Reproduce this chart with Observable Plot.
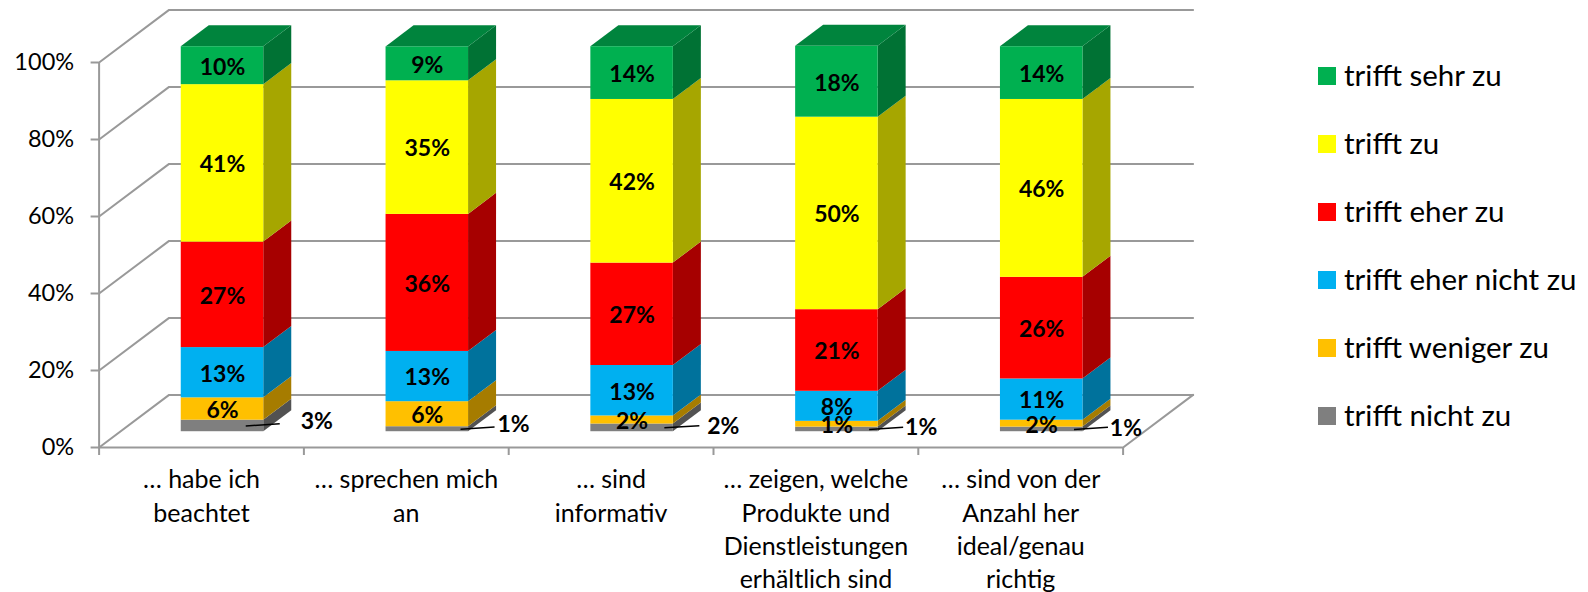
<!DOCTYPE html>
<html><head><meta charset="utf-8">
<script src="https://cdn.jsdelivr.net/npm/d3@7"></script>
<script src="https://cdn.jsdelivr.net/npm/@observablehq/plot@0.6"></script>
<style>
html,body{margin:0;padding:0;background:#fff}
#wrap{position:relative;width:1588px;height:592px;overflow:hidden;font-family:Lato,sans-serif}
#legend{position:absolute;left:1318px;top:67px}
.li{position:absolute;left:0;white-space:nowrap;font-size:29.5px;line-height:18px;color:#000}
.li i{position:absolute;left:0;top:0;width:18px;height:18px}
.li span{position:absolute;left:26px;top:-1px}
svg{display:block}
</style></head><body><div id="wrap"><div id="chart"></div><div id="legend"></div></div>
<script>
const categories = ["… habe ich\nbeachtet","… sprechen mich\nan","… sind\ninformativ","… zeigen, welche\nProdukte und\nDienstleistungen\nerhältlich sind","… sind von der\nAnzahl her\nideal/genau\nrichtig"];
const seriesNames = ["trifft nicht zu","trifft weniger zu","trifft eher nicht zu","trifft eher zu","trifft zu","trifft sehr zu"];
const nichtZu      = [3.0, 1.3, 2.0, 1.2, 1.2];
const wenigerZu    = [5.8, 6.5, 2.1, 1.5, 1.8];
const eherNichtZu  = [13.05, 13.05, 13.1, 7.8, 10.7];
const eherZu       = [27.4, 35.6, 26.6, 21.2, 26.4];
const zu           = [40.9, 34.7, 42.5, 50.0, 46.2];
const sehrZu       = [9.85, 8.8, 13.7, 18.4, 13.7];
const labelsNichtZu     = ["3%","1%","2%","1%","1%"];
const labelsWenigerZu   = ["6%","6%","2%","1%","2%"];
const labelsEherNichtZu = ["13%","13%","13%","8%","11%"];
const labelsEherZu      = ["27%","36%","27%","21%","26%"];
const labelsZu          = ["41%","35%","42%","50%","46%"];
const labelsSehrZu      = ["10%","9%","14%","18%","14%"];
const yTicks = [0,20,40,60,80,100];
const frontColors = ["#7f7f7f","#ffc000","#00b0f0","#ff0000","#ffff00","#00b050"];
const sideColors  = ["#525252","#a67c00","#00729c","#a60000","#a6a600","#007234"];
const topColor = "#00843d";
const gridColor = "#999999";

// layout
const values = [nichtZu,wenigerZu,eherNichtZu,eherZu,zu,sehrZu];
const labels = [labelsNichtZu,labelsWenigerZu,labelsEherNichtZu,labelsEherZu,labelsZu,labelsSehrZu];
const unitX = 204.8, unitY = 3.85;
const depthX = 70/unitX, depthY = 52.6/unitY;
const barStart = 0.3, barDepth = 0.4, barWidth = 82.5/unitX;

const segs = [], sidePts = [], topPts = [], inner = [], outer = [];
categories.forEach((c,i)=>{
  const x0 = i + 0.5 + barStart*depthX - barWidth/2;
  const x1 = x0 + barWidth;
  const base = barStart*depthY;
  const dx = barDepth*depthX, dy = barDepth*depthY;
  let cum = 0;
  values.forEach((v,s)=>{
    const y1 = base+cum, y2 = base+cum+v[i];
    segs.push({x1,x2:x1-barWidth,y1,y2,fill:frontColors[s]});
    const id = i+"-"+s;
    sidePts.push({id,x:x1,y1,y2,fill:sideColors[s]},{id,x:x1+dx,y1:y1+dy,y2:y2+dy,fill:sideColors[s]});
    if (s>0) inner.push({x:(x0+x1)/2,y:(y1+y2)/2,t:labels[s][i]});
    cum += v[i];
  });
  const full = base+cum;
  topPts.push({id:i,y:full,x1:x0,x2:x1},{id:i,y:full+dy,x1:x0+dx,x2:x1+dx});
  outer.push({i,right:x1,y:base+nichtZu[i]/2,t:labelsNichtZu[i]});
});

// leader lines and outside labels, pixel offsets from the bar's right front edge
const leadStart = [-18,-8,-9,-9,-9], leadEnd = [16,26,26,25,25], labOff=[53,45,50,43,43], labDy=[-4,-5,-1,-2,-1];
const leaders = outer.map(o=>({x1:o.right+leadStart[o.i]/unitX,x2:o.right+leadEnd[o.i]/unitX,y1:o.y,y2:o.y+0.55,t:o.t,lx:o.right+labOff[o.i]/unitX,dy:labDy[o.i]}));

const wall = yTicks.flatMap(t=>[
  {id:"s"+t,x:0,y:t},{id:"s"+t,x:depthX,y:t+depthY},{id:"s"+t,x:5+depthX,y:t+depthY}
]);
const floor = [
  {id:"f",x:0,y:0},{id:"f",x:5,y:0},{id:"f",x:5+depthX,y:depthY}
];

const chart = Plot.plot({
  width:1588,height:592,marginLeft:98.6,marginRight:465.4,marginTop:62,marginBottom:145,
  x:{domain:[0,5]},
  y:{domain:[0,100]},
  color:{type:"identity"},
  style:{fontFamily:"Lato,sans-serif",background:"#fff",overflow:"visible",color:"#000"},
  marks:[
    Plot.line(wall,{x:"x",y:"y",z:"id",stroke:gridColor,strokeWidth:2}),
    Plot.line(floor,{x:"x",y:"y",z:"id",stroke:gridColor,strokeWidth:2}),
    Plot.ruleX([0],{y1:0,y2:100,stroke:gridColor,strokeWidth:2}),
    Plot.axisY(yTicks,{anchor:"left",label:null,tickSize:8,tickPadding:17,stroke:gridColor,strokeWidth:2,fill:"#000",fontSize:23.5,tickFormat:d=>d+"%"}),
    Plot.axisX([0,1,2,3,4,5],{anchor:"bottom",label:null,tickSize:8,stroke:gridColor,strokeWidth:2,tickFormat:()=>""}),
    Plot.text(categories,{x:(d,i)=>i+0.5,y:0,text:d=>d,dy:17,lineAnchor:"top",lineHeight:33.4/25,fontSize:25,fill:"#000"}),
    Plot.areaY(sidePts,{x:"x",y1:"y1",y2:"y2",z:"id",fill:"fill"}),
    Plot.areaX(topPts,{y:"y",x1:"x1",x2:"x2",z:"id",fill:topColor}),
    Plot.rect(segs,{x1:"x1",x2:"x2",y1:"y1",y2:"y2",fill:"fill"}),
    Plot.link(leaders,{x1:"x1",x2:"x2",y1:"y1",y2:"y2",stroke:"#000",strokeWidth:1.5}),
    Plot.text(inner,{x:"x",y:"y",text:"t",dy:1.5,fontSize:23,fontWeight:700,fill:"#000"}),
    ...leaders.map(l=>Plot.text([l],{x:"lx",y:"y1",text:"t",dy:l.dy,fontSize:23,fontWeight:700,fill:"#000"}))
  ]
});
document.getElementById("chart").appendChild(chart);

const legend = document.getElementById("legend");
[...seriesNames].reverse().forEach((n,k)=>{
  const li=document.createElement("div");li.className="li";li.style.top=(k*68)+"px";
  const sw=document.createElement("i");sw.style.background=frontColors[seriesNames.length-1-k];
  const sp=document.createElement("span");sp.textContent=n;
  li.append(sw,sp);legend.appendChild(li);
});
</script></body></html>
